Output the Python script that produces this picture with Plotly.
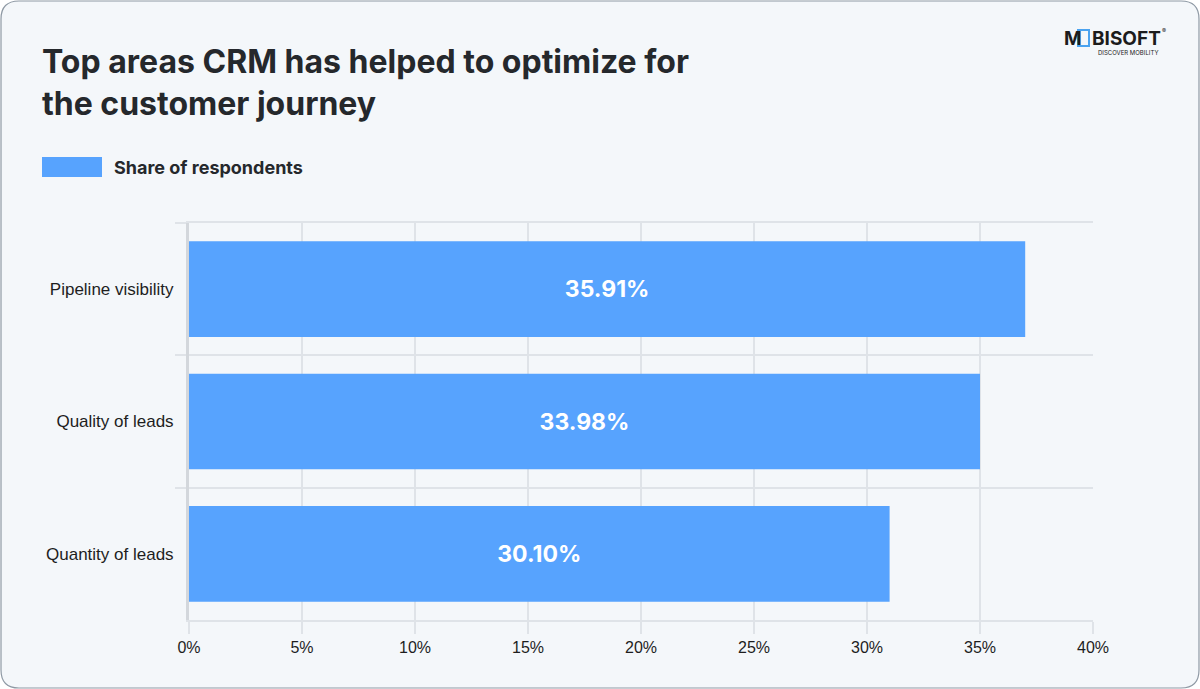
import plotly.graph_objects as go

categories = ["Pipeline visibility", "Quality of leads", "Quantity of leads"]
bar_values = [37.0, 35.0, 31.0]
bar_labels = ["35.91%", "33.98%", "30.10%"]
x_ticks = [0, 5, 10, 15, 20, 25, 30, 35, 40]
x_tick_labels = ["0%", "5%", "10%", "15%", "20%", "25%", "30%", "35%", "40%"]

W, H = 1200, 689
L, R, T, B = 189, 1093, 223, 620
pw, ph = R - L, B - T


def px(x):
    return (x - L) / pw


def py(y):
    return (B - y) / ph


BAR = "#57a3fe"
GRID = "#dfe3e8"
TEXT = "#25282c"

fig = go.Figure()
fig.add_trace(go.Bar(
    x=bar_values, y=categories, orientation="h",
    marker=dict(color=BAR, line=dict(width=0)),
    text=bar_labels, textposition="inside", insidetextanchor="middle",
    textfont=dict(family="Inter", size=23, color="white", weight="bold"),
    name="Share of respondents", showlegend=False,
    hoverinfo="skip",
))

# rounded card
x0, x1, y0, y1 = px(1), px(1199), py(1), py(688)
rx = 18 / pw
ry = 18 / ph
card = (f"M {x0+rx},{y0} L {x1-rx},{y0} Q {x1},{y0} {x1},{y0-ry} "
        f"L {x1},{y1+ry} Q {x1},{y1} {x1-rx},{y1} L {x0+rx},{y1} "
        f"Q {x0},{y1} {x0},{y1+ry} L {x0},{y0-ry} Q {x0},{y0} {x0+rx},{y0} Z")

shapes = [
    dict(type="path", xref="paper", yref="paper", path=card,
         fillcolor="#f4f7fa", line=dict(color="#8e99a4", width=1.2), layer="below"),
    # legend swatch
    dict(type="rect", xref="paper", yref="paper", x0=px(42), x1=px(102),
         y0=py(177), y1=py(157), fillcolor=BAR, line=dict(width=0)),
    # logo phone "O"
    dict(type="rect", xref="paper", yref="paper", x0=px(1078), x1=px(1089),
         y0=py(46), y1=py(30), fillcolor="rgba(0,0,0,0)",
         line=dict(color="#4aa3f0", width=2)),
]

annotations = [
    dict(xref="paper", yref="paper", x=px(40), y=py(40), xanchor="left", yanchor="top",
         align="left", showarrow=False,
         text="Top areas CRM has helped to optimize for<br>the customer journey",
         font=dict(family="Inter", size=32, color=TEXT, weight="bold")),
    dict(xref="paper", yref="paper", x=px(112), y=py(167), xanchor="left", yanchor="middle",
         showarrow=False, text="Share of respondents",
         font=dict(family="Inter", size=18, color=TEXT, weight="bold")),
    dict(xref="paper", yref="paper", x=px(1062), y=py(38), xanchor="left", yanchor="middle",
         showarrow=False, text="M",
         font=dict(family="Inter", size=19, color="#1c1c1c", weight="bold")),
    dict(xref="paper", yref="paper", x=px(1090), y=py(38), xanchor="left", yanchor="middle",
         showarrow=False, text="BISOFT",
         font=dict(family="Inter", size=19, color="#1c1c1c", weight="bold")),
    dict(xref="paper", yref="paper", x=px(1160), y=py(30), xanchor="left", yanchor="middle",
         showarrow=False, text="®",
         font=dict(family="Inter", size=6, color="#1c1c1c")),
    dict(xref="paper", yref="paper", x=px(1160), y=py(52), xanchor="right", yanchor="middle",
         showarrow=False, text="DISCOVER MOBILITY",
         font=dict(family="Inter", size=6, color="#1c1c1c")),
]

fig.update_layout(
    width=W, height=H,
    margin=dict(l=L, r=W - R, t=T, b=H - B, pad=0),
    paper_bgcolor="white", plot_bgcolor="#f4f7fa",
    bargap=0.277,
    shapes=shapes, annotations=annotations,
    font=dict(family="Liberation Sans", color="#1e1e1e"),
    xaxis=dict(range=[0, 40], tickvals=x_ticks, ticktext=x_tick_labels,
               showgrid=True, gridcolor=GRID, gridwidth=2,
               ticks="outside", ticklen=12, tickcolor=GRID, tickwidth=2,
               showline=True, linecolor=GRID, linewidth=2, mirror=True,
               zeroline=False, tickfont=dict(size=16, color="#1e1e1e"),
               fixedrange=True),
    yaxis=dict(categoryorder="array", categoryarray=categories, autorange="reversed",
               tickson="boundaries", showgrid=True, gridcolor=GRID, gridwidth=2,
               ticks="outside", ticklen=11, tickcolor=GRID, tickwidth=2,
               showline=True, linecolor="#d3d7dc", linewidth=3, mirror=False,
               tickfont=dict(size=17, color="#1e1e1e"), ticklabelstandoff=9,
               fixedrange=True),
    showlegend=False,
)

fig.write_html("out.html", config={"displayModeBar": False},
               post_script="document.body.style.margin='0';document.body.style.overflow='hidden';")
